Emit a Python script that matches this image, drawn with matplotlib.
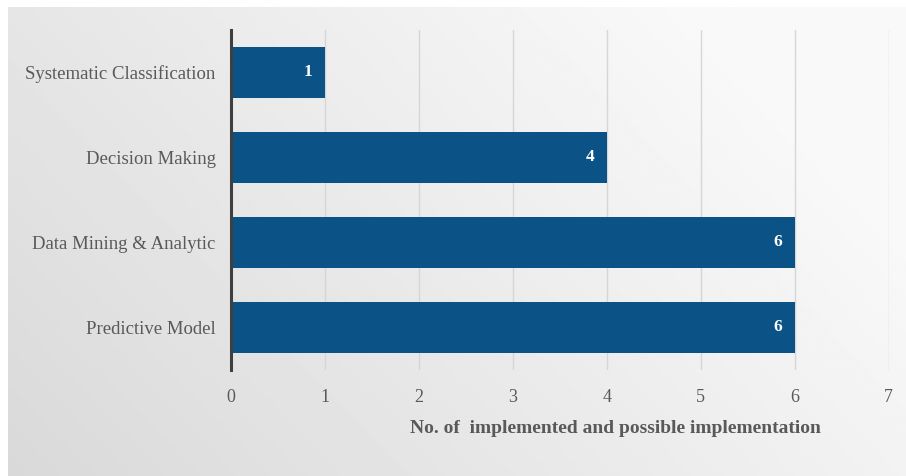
import numpy as np
import matplotlib
matplotlib.use("Agg")
import matplotlib.pyplot as plt

categories = ["Predictive Model", "Data Mining & Analytic",
              "Decision Making", "Systematic Classification"]
counts = [6, 6, 4, 1]
x_ticks = [0, 1, 2, 3, 4, 5, 6, 7]
x_label = "No. of  implemented and possible implementation"

bar_color = "#0b5386"
text_gray = "#595959"

plt.rcParams["font.family"] = ["Liberation Serif", "DejaVu Serif"]

fig = plt.figure(figsize=(9.06, 4.76), dpi=100)
fig.patch.set_facecolor("white")

# soft grey gradient panel behind the chart
bg = fig.add_axes([0.009, 0, 0.991, 0.985])
bg.set_axis_off()
gx, gy = np.meshgrid(np.linspace(0, 1, 300), np.linspace(0, 1, 160))
shade = 0.85 + 0.10 * gx + 0.05 * gy
shade = np.clip(shade, 0, 0.975)
bg.imshow(shade, cmap="gray", vmin=0, vmax=1, origin="lower",
          aspect="auto", extent=[0, 1, 0, 1], zorder=0)
bg.set_xlim(0, 1)
bg.set_ylim(0, 1)

ax = fig.add_axes([0.255, 0.223, 0.726, 0.714])
ax.patch.set_alpha(0)

ypos = np.arange(len(categories))
ax.barh(ypos, counts, height=0.6, color=bar_color, zorder=3)

for y, v in zip(ypos, counts):
    ax.text(v - 0.13, y, str(v), ha="right", va="center", color="white",
            fontsize=12.5, fontweight="bold", zorder=4)

ax.set_xlim(0, 7)
ax.set_ylim(-0.5, 3.5)
ax.set_xticks(x_ticks)
ax.set_yticks(ypos)
ax.set_yticklabels(categories, fontsize=13.5)
ax.tick_params(axis="both", length=0, labelcolor=text_gray)
ax.tick_params(axis="x", pad=14, labelsize=13)
ax.tick_params(axis="y", pad=11)

ax.grid(axis="x", color="#d6d6d6", linewidth=1.0, zorder=1)
for side in ["top", "right", "bottom"]:
    ax.spines[side].set_visible(False)
ax.spines["left"].set_color("#3f3f3f")
ax.spines["left"].set_linewidth(2.2)
ax.spines["left"].set_zorder(5)

ax.set_xlabel(x_label, fontsize=14, fontweight="bold", color=text_gray)
ax.xaxis.set_label_coords(0.584, -0.148)

fig.savefig("out.png", dpi=100)
